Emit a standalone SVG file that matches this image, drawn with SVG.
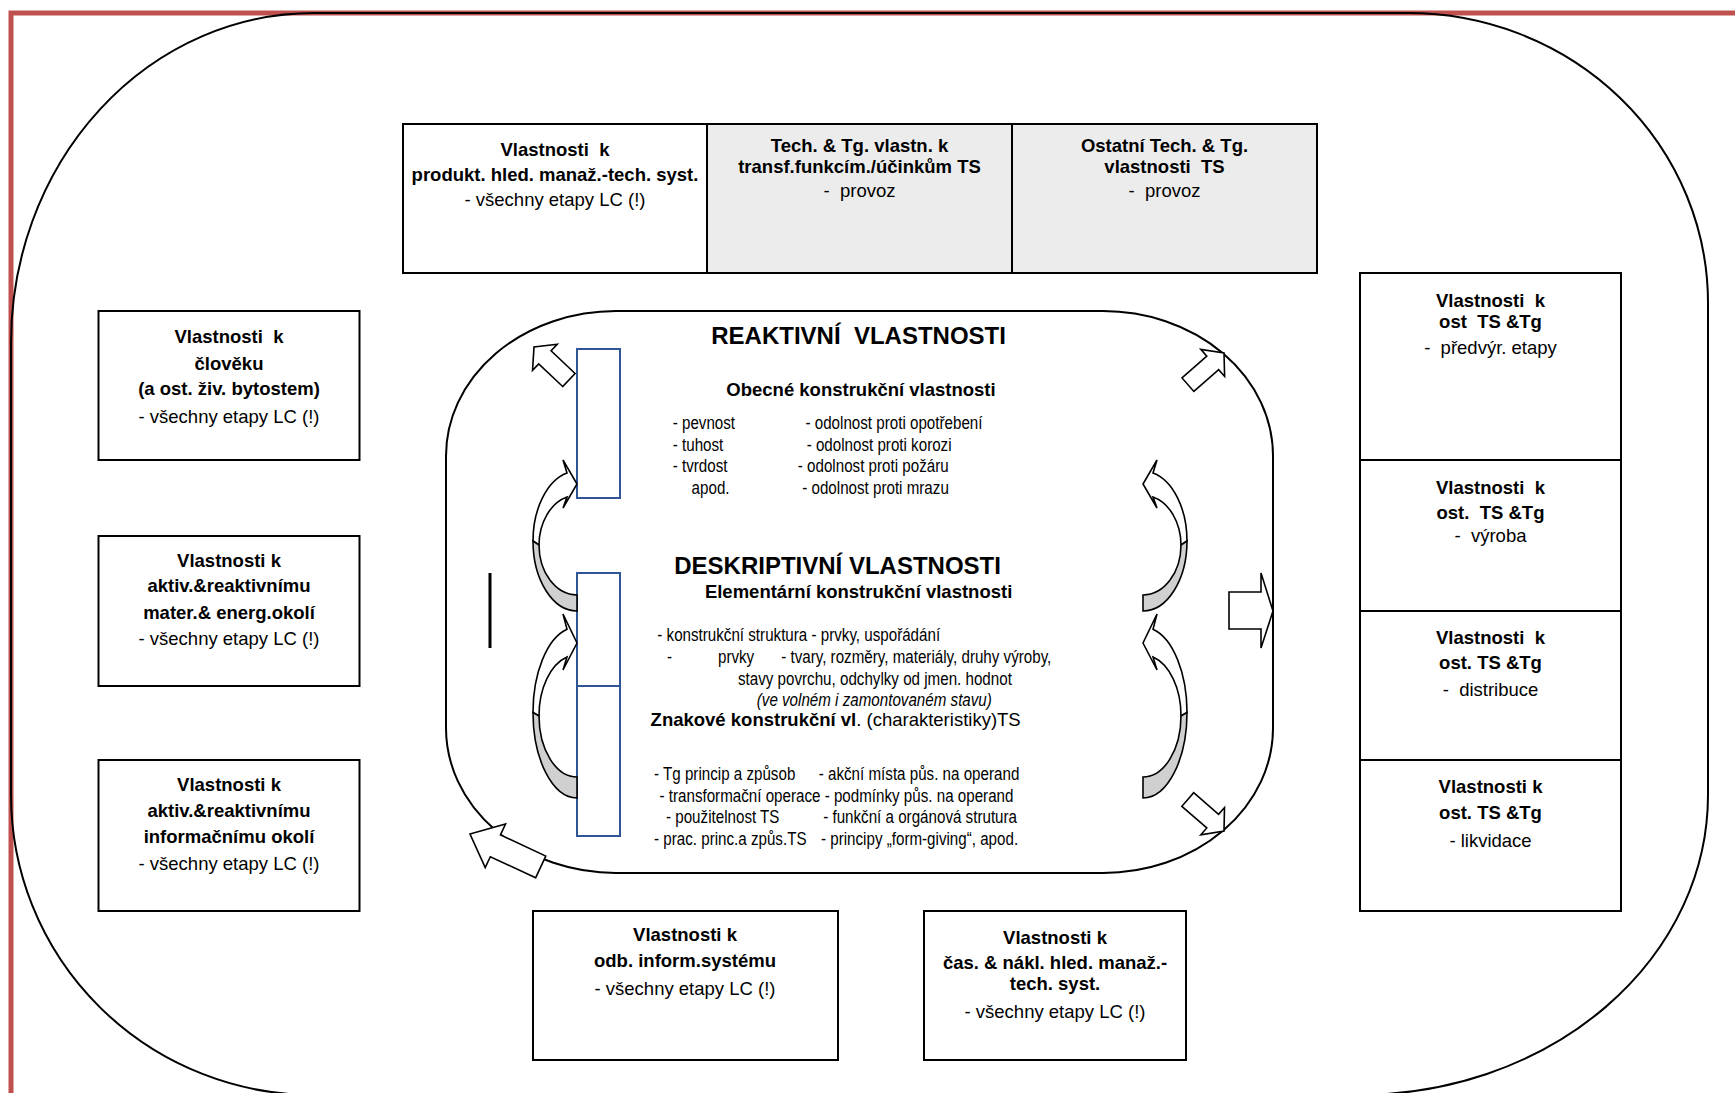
<svg xmlns="http://www.w3.org/2000/svg" width="1735" height="1093" viewBox="0 0 1735 1093">
<style>
text{font-family:"Liberation Sans",Arial,Helvetica,sans-serif;font-size:18.5px;fill:#000;white-space:pre}
.b{font-weight:bold}
.m{text-anchor:middle}
.h{font-size:24px;font-weight:bold}
.i{font-style:italic}
.box{fill:#fff;stroke:#000;stroke-width:2}
.gbox{fill:#ececec;stroke:#000;stroke-width:2}
.blue{fill:#fff;stroke:#2f5597;stroke-width:2}
.arr{fill:#fff;stroke:#000;stroke-width:1.6;stroke-linejoin:miter}
.shade{fill:#d0d0d0;stroke:#000;stroke-width:1.6}
.line{fill:none;stroke:#000;stroke-width:2}
</style>
<defs>
<polygon id="ba" points="-48,-9 -15,-9 -15,-18 0,0 -15,18 -15,9 -48,9"/>
</defs>
<rect width="1735" height="1093" fill="#fff"/>
<path d="M11,1093 V13 H1735" fill="none" stroke="#c0504d" stroke-width="5"/>
<g id="outer-frame">
<path class="line" d="M314,13 H1408 A300,290 0 0 1 1708,303 V795 A350,300 0 0 1 1358,1095 H314 A303,300 0 0 1 11,795 V343 A303,330 0 0 1 314,13 Z"/>
</g>
<g id="inner-frame">
<path class="line" d="M616,311 H1103 A170,145 0 0 1 1273,456 V728 A170,145 0 0 1 1103,873 H616 A170,145 0 0 1 446,728 V456 A170,145 0 0 1 616,311 Z"/>
</g>

<g id="top-box-1">
<rect class="box" x="403" y="124" width="304" height="149"/>
<text class="b m" x="555" y="156" xml:space="preserve">Vlastnosti  k</text>
<text class="b m" x="555" y="181">produkt. hled. manaž.-tech. syst.</text>
<text class="m" x="555" y="206">- všechny etapy LC (!)</text>
</g>
<g id="top-box-2">
<rect class="gbox" x="707" y="124" width="305" height="149"/>
<text class="b m" x="859.5" y="151.5">Tech. &amp; Tg. vlastn. k</text>
<text class="b m" x="859.5" y="172.5">transf.funkcím./účinkům TS</text>
<text class="m" x="859.5" y="197" xml:space="preserve">-  provoz</text>
</g>
<g id="top-box-3">
<rect class="gbox" x="1012" y="124" width="305" height="149"/>
<text class="b m" x="1164.5" y="151.5">Ostatní Tech. &amp; Tg.</text>
<text class="b m" x="1164.5" y="172.5" xml:space="preserve">vlastnosti  TS</text>
<text class="m" x="1164.5" y="197" xml:space="preserve">-  provoz</text>
</g>

<g id="left-box-1">
<rect class="box" x="98.5" y="311" width="261" height="149"/>
<text class="b m" x="229" y="343" xml:space="preserve">Vlastnosti  k</text>
<text class="b m" x="229" y="369.5">člověku</text>
<text class="b m" x="229" y="395">(a ost. živ. bytostem)</text>
<text class="m" x="229" y="422.5">- všechny etapy LC (!)</text>
</g>
<g id="left-box-2">
<rect class="box" x="98.5" y="536" width="261" height="150"/>
<text class="b m" x="229" y="566.5">Vlastnosti k</text>
<text class="b m" x="229" y="592">aktiv.&amp;reaktivnímu</text>
<text class="b m" x="229" y="618.5">mater.&amp; energ.okolí</text>
<text class="m" x="229" y="645">- všechny etapy LC (!)</text>
</g>
<g id="left-box-3">
<rect class="box" x="98.5" y="760" width="261" height="151"/>
<text class="b m" x="229" y="791">Vlastnosti k</text>
<text class="b m" x="229" y="816.5">aktiv.&amp;reaktivnímu</text>
<text class="b m" x="229" y="843">informačnímu okolí</text>
<text class="m" x="229" y="869.5">- všechny etapy LC (!)</text>
</g>

<g id="right-cell-1">
<rect class="box" x="1360" y="273" width="261" height="187"/>
<text class="b m" x="1490.5" y="306.5" xml:space="preserve">Vlastnosti  k</text>
<text class="b m" x="1490.5" y="327.5" xml:space="preserve">ost  TS &amp;Tg</text>
<text class="m" x="1490.5" y="354" xml:space="preserve">-  předvýr. etapy</text>
</g>
<g id="right-cell-2">
<rect class="box" x="1360" y="460" width="261" height="151"/>
<text class="b m" x="1490.5" y="493.5" xml:space="preserve">Vlastnosti  k</text>
<text class="b m" x="1490.5" y="519" xml:space="preserve">ost.  TS &amp;Tg</text>
<text class="m" x="1490.5" y="542" xml:space="preserve">-  výroba</text>
</g>
<g id="right-cell-3">
<rect class="box" x="1360" y="611" width="261" height="149"/>
<text class="b m" x="1490.5" y="644" xml:space="preserve">Vlastnosti  k</text>
<text class="b m" x="1490.5" y="669">ost. TS &amp;Tg</text>
<text class="m" x="1490.5" y="696" xml:space="preserve">-  distribuce</text>
</g>
<g id="right-cell-4">
<rect class="box" x="1360" y="760" width="261" height="151"/>
<text class="b m" x="1490.5" y="793">Vlastnosti k</text>
<text class="b m" x="1490.5" y="818.5">ost. TS &amp;Tg</text>
<text class="m" x="1490.5" y="846.5">- likvidace</text>
</g>

<g id="bottom-box-1">
<rect class="box" x="533" y="911" width="305" height="149"/>
<text class="b m" x="685" y="940.5">Vlastnosti k</text>
<text class="b m" x="685" y="967">odb. inform.systému</text>
<text class="m" x="685" y="994.5">- všechny etapy LC (!)</text>
</g>
<g id="bottom-box-2">
<rect class="box" x="924" y="911" width="262" height="149"/>
<text class="b m" x="1055" y="943.5">Vlastnosti k</text>
<text class="b m" x="1055" y="969">čas. &amp; nákl. hled. manaž.-</text>
<text class="b m" x="1055" y="990">tech. syst.</text>
<text class="m" x="1055" y="1018">- všechny etapy LC (!)</text>
</g>

<g id="connectors">
<use href="#ba" class="arr" transform="translate(534,347) rotate(-136.6)"/>
<use href="#ba" class="arr" transform="translate(1224,353) rotate(-41.3)"/>
<use href="#ba" class="arr" transform="translate(1224,831) rotate(41)"/>
<polygon class="arr" transform="translate(470,834) rotate(-155)" points="-78,-12 -28,-12 -28,-24 0,0 -28,24 -28,12 -78,12"/>
<polygon class="arr" points="1229,592 1261,592 1261,573 1273,611 1261,648 1261,629 1229,629"/>
<line x1="490" y1="573" x2="490" y2="648" stroke="#000" stroke-width="3"/>
</g>

<g id="blue-rects">
<rect class="blue" x="577" y="349" width="43" height="149"/>
<rect class="blue" x="577" y="573" width="43" height="113"/>
<rect class="blue" x="577" y="686" width="43" height="150"/>
</g>

<g id="curved-arrows">
<g id="curved-left-1">
<path class="arr" d="M533,541 A44,70 0 0 1 567,473 L563,460 L577,484 L563,508 L567,497 A38,50 0 0 0 539,545 Z"/>
<path class="shade" d="M533,541 A44,70 0 0 0 577,611 L577,595 A38,50 0 0 1 539,545 Z"/>
</g>
<g id="curved-left-2">
<path class="arr" d="M533,712.5 A44,85.5 0 0 1 567,629.2 L563,614 L577,643 L563,670 L567,657 A38,61 0 0 0 539,716 Z"/>
<path class="shade" d="M533,712.5 A44,85.5 0 0 0 577,798 L577,777 A38,61 0 0 1 539,716 Z"/>
</g>
<g id="curved-right-1" transform="matrix(-1 0 0 1 1720 0)">
<path class="arr" d="M533,541 A44,70 0 0 1 567,473 L563,460 L577,484 L563,508 L567,497 A38,50 0 0 0 539,545 Z"/>
<path class="shade" d="M533,541 A44,70 0 0 0 577,611 L577,595 A38,50 0 0 1 539,545 Z"/>
</g>
<g id="curved-right-2" transform="matrix(-1 0 0 1 1720 0)">
<path class="arr" d="M533,712.5 A44,85.5 0 0 1 567,629.2 L563,614 L577,643 L563,670 L567,657 A38,61 0 0 0 539,716 Z"/>
<path class="shade" d="M533,712.5 A44,85.5 0 0 0 577,798 L577,777 A38,61 0 0 1 539,716 Z"/>
</g>
</g>

<g id="inner-text">
<text class="h m" x="858.6" y="344" xml:space="preserve">REAKTIVNÍ  VLASTNOSTI</text>
<text class="b m" x="861" y="396">Obecné konstrukční vlastnosti</text>
<text class="h m" x="837.6" y="574">DESKRIPTIVNÍ VLASTNOSTI</text>
<text class="b m" x="858.6" y="597.5">Elementární konstrukční vlastnosti</text>
<text x="650.6" y="725.7"><tspan class="b">Znakové konstrukční vl</tspan>. (charakteristiky)TS</text>
<g transform="scale(0.82 1)">
<text x="820.4" y="429">- pevnost</text>
<text x="820.4" y="451.3">- tuhost</text>
<text x="820.4" y="472.3">- tvrdost</text>
<text x="843.4" y="494.5">apod.</text>
<text x="982.3" y="429">- odolnost proti opotřebení</text>
<text x="983.7" y="451.3">- odolnost proti korozi</text>
<text x="972.9" y="472.3">- odolnost proti požáru</text>
<text x="978.3" y="494.5">- odolnost proti mrazu</text>
<text x="801.6" y="641.5">- konstrukční struktura - prvky, uspořádání</text>
<text x="813.4" y="662.6">-</text>
<text x="875.6" y="662.6">prvky</text>
<text x="952.7" y="662.6">- tvary, rozměry, materiály, druhy výroby,</text>
<text x="900" y="684.8">stavy povrchu, odchylky od jmen. hodnot</text>
<text class="i" x="922.9" y="705.8">(ve volném i zamontovaném stavu)</text>
<text x="797.6" y="780">- Tg princip a způsob</text>
<text x="998.5" y="780">- akční místa půs. na operand</text>
<text x="804.3" y="802">- transformační operace - podmínky půs. na operand</text>
<text x="812.2" y="823">- použitelnost TS</text>
<text x="1003.9" y="823">- funkční a orgánová strutura</text>
<text x="797.6" y="845">- prac. princ.a způs.TS</text>
<text x="1001.2" y="845">- principy „form-giving“, apod.</text>
</g>
</g>
</svg>
